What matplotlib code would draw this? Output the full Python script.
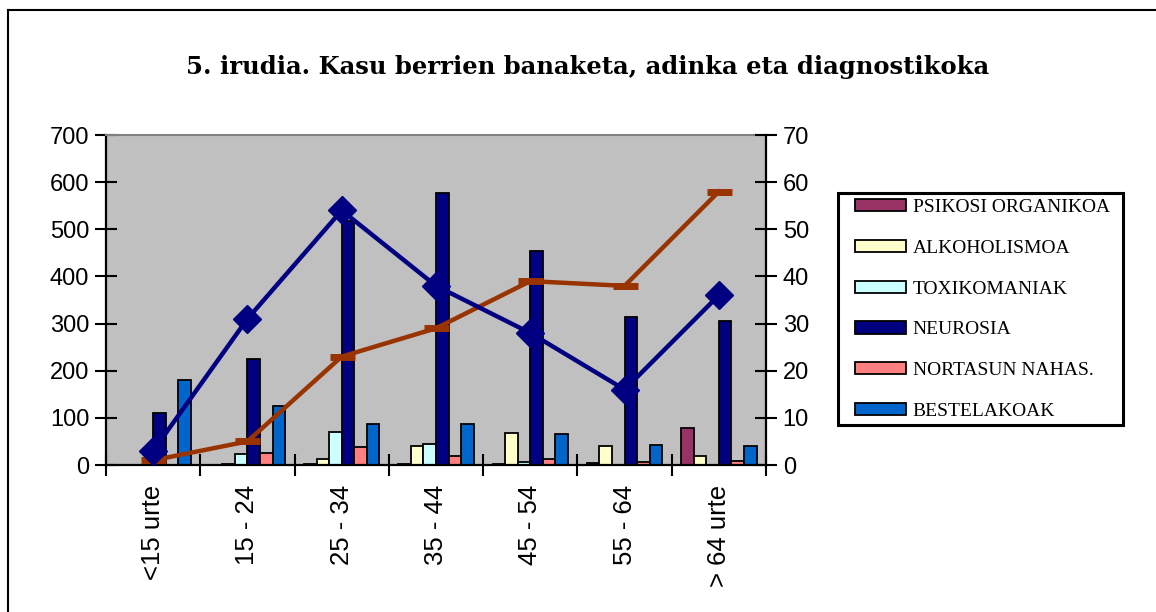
import numpy as np
import matplotlib
matplotlib.use('Agg')
import matplotlib.pyplot as plt
from matplotlib.lines import Line2D
from matplotlib.patches import Rectangle

# data
categories = ['<15 urte', '15 - 24', '25 - 34', '35 - 44', '45 - 54', '55 - 64', '> 64 urte']
psikosi = [1, 1, 2, 2, 2, 5, 78]
alkohol = [1, 3, 13, 40, 68, 40, 19]
toxiko = [1, 24, 70, 44, 6, 1, 1]
neurosia = [110, 225, 518, 578, 455, 315, 305]
nortasun = [1, 25, 38, 19, 13, 6, 8]
bestelak = [180, 125, 87, 88, 65, 42, 40]
line_blue = [3, 31, 54, 38, 28, 16, 36]
line_brown = [1, 5, 23, 29, 39, 38, 58]

series = [
    ('PSIKOSI ORGANIKOA', psikosi, '#993366'),
    ('ALKOHOLISMOA', alkohol, '#FFFFCC'),
    ('TOXIKOMANIAK', toxiko, '#CCFFFF'),
    ('NEUROSIA', neurosia, '#000080'),
    ('NORTASUN NAHAS.', nortasun, '#FF8080'),
    ('BESTELAKOAK', bestelak, '#0066CC'),
]

W, H = 1156, 612
fig = plt.figure(figsize=(W / 100, H / 100), dpi=100)
ax = fig.add_axes([106 / W, 1 - 465 / H, 660 / W, 330 / H])
ax.set_facecolor('#C0C0C0')

x = np.arange(len(categories))
w = 0.8 / len(series)
for i, (name, vals, col) in enumerate(series):
    ax.bar(x + (i - 2.5) * w, vals, width=w, color=col, edgecolor='black',
           linewidth=1.3, label=name, zorder=2)

ax.set_xlim(-0.5, len(categories) - 0.5)
ax.set_ylim(0, 700)
ax.set_yticks(range(0, 701, 100))

# category labels at centres, tick marks at boundaries
ax.set_xticks(x)
ax.set_xticklabels(categories, rotation=90, fontsize=18.5, family='Liberation Sans')
ax.set_xticks(np.arange(-0.5, len(categories), 1), minor=True)
ax.tick_params(axis='x', which='major', length=0, pad=14)
ax.tick_params(axis='x', which='minor', direction='inout', length=16, width=1.5)
ax.tick_params(axis='y', direction='inout', length=16, width=1.5, pad=4,
               labelsize=17)
for lab in ax.get_yticklabels():
    lab.set_family('Liberation Sans')

for s in ['left', 'bottom']:
    ax.spines[s].set_linewidth(1.6)
ax.spines['top'].set_color('#808080')
ax.spines['top'].set_linewidth(1.5)
ax.spines['right'].set_visible(False)

ax2 = ax.twinx()
ax2.set_ylim(0, 70)
ax2.set_yticks(range(0, 71, 10))
ax2.tick_params(axis='y', direction='inout', length=16, width=1.5, pad=4,
                labelsize=17)
for lab in ax2.get_yticklabels():
    lab.set_family('Liberation Sans')
ax2.spines['right'].set_linewidth(1.6)
for s in ['left', 'top', 'bottom']:
    ax2.spines[s].set_visible(False)

ax2.plot(x, line_brown, color='#993300', linewidth=3.2, marker='_',
         markersize=18, markeredgewidth=5, zorder=3)
ax2.plot(x, line_blue, color='#000080', linewidth=3.2, marker='D',
         markersize=14, zorder=4)

# legend box drawn separately so the padding can differ per side
fig.add_artist(Rectangle((838 / W, 1 - 425 / H), 285 / W, 232 / H,
                         transform=fig.transFigure, facecolor='white',
                         edgecolor='black', linewidth=2.2, zorder=9))
handles, labels = ax.get_legend_handles_labels()
leg = fig.legend(handles, labels, loc='upper left',
                 bbox_to_anchor=(855 / W, 1 - 199 / H),
                 bbox_transform=fig.transFigure, frameon=False,
                 prop={'family': 'Liberation Serif', 'size': 14},
                 handlelength=2.6, handleheight=0.6, handletextpad=0.36,
                 labelspacing=1.22, borderpad=0, borderaxespad=0)
leg.set_zorder(10)

fig.text(0.508, 1 - 67 / H, '5. irudia. Kasu berrien banaketa, adinka eta diagnostikoka',
         ha='center', va='center', fontsize=17.5, fontweight='bold',
         family='DejaVu Serif')

# outer frame (left and top edges)
fig.add_artist(Line2D([8 / W, 8 / W], [0, 1 - 10 / H],
                      transform=fig.transFigure, color='black', linewidth=1.5))
fig.add_artist(Line2D([8 / W, 1], [1 - 10 / H, 1 - 10 / H],
                      transform=fig.transFigure, color='black', linewidth=1.5))

fig.savefig('out.png', dpi=100)
